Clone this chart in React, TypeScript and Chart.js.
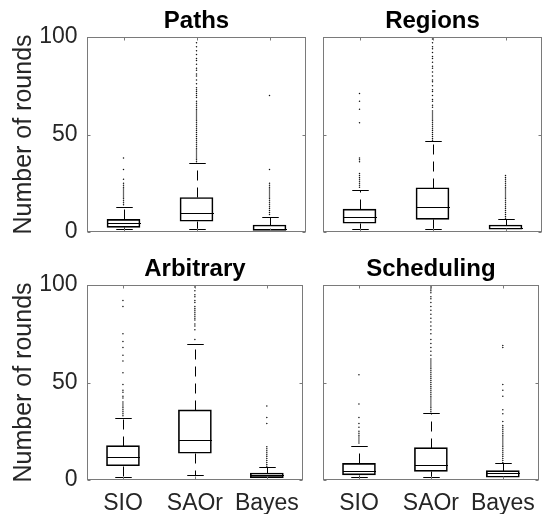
import React, { useEffect, useRef } from 'react';
import { Chart, registerables } from 'chart.js';
Chart.register(...registerables);

const FONT = '"Liberation Sans", Arial, Helvetica, sans-serif';

const categories = ['SIO', 'SAOr', 'Bayes'];
const yTickValues = [0, 50, 100];

// ---- Paths ----
const pathsLow = [1.5, 1.5, 0.5];
const pathsQ1 = [2.4, 5.5, 0.8];
const pathsMedian = [4.5, 9.6, 1.5];
const pathsQ3 = [6.5, 17.7, 3.6];
const pathsHigh = [12.6, 35.6, 7.6];
const pathsOutSIO = [14, 15, 16, 17, 18, 19, 20, 21, 22, 23, 24, 25, 27, 32, 38];
const pathsOutSAOr = [36, 37, 38, 39, 40, 41, 42, 43, 44, 45, 46, 47, 48, 49, 50, 51, 52, 53, 54, 55, 56, 57, 58, 59, 60, 61, 62, 63, 64, 65, 66, 67, 69, 70, 71, 72, 73, 74, 76, 78, 80, 81, 83, 84, 86, 88, 89, 91, 93, 95, 97, 100];
const pathsOutBayes = [9, 10, 11, 12, 13, 14, 15, 16, 17, 18, 19, 20, 21, 22, 23, 24, 25, 32, 70];

// ---- Regions ----
const regionsLow = [1.5, 1.5, 0.5];
const regionsQ1 = [4.5, 6.5, 1.4];
const regionsMedian = [7.6, 12.7, 2.2];
const regionsQ3 = [11.7, 22.7, 3.6];
const regionsHigh = [21.5, 46.8, 6.5];
const regionsOutSIO = [23, 24, 25, 26, 27, 28, 29, 30, 36, 37, 38, 56, 63, 67, 71];
const regionsOutSAOr = [47, 48, 49, 50, 51, 52, 53, 54, 55, 56, 57, 58, 59, 60, 61, 62, 64, 65, 67, 68, 70, 72, 73, 75, 77, 78, 80, 82, 84, 85, 87, 89, 90, 92, 94, 95, 97, 99, 100];
const regionsOutBayes = [7, 8, 9, 10, 11, 12, 13, 14, 15, 16, 17, 18, 19, 20, 21, 22, 23, 24, 25, 26, 27, 28, 29];

// ---- Arbitrary ----
const arbitraryLow = [1.4, 2.6, 0.3];
const arbitraryQ1 = [7.3, 13.7, 1.2];
const arbitraryMedian = [11.6, 20.6, 2.4];
const arbitraryQ3 = [17.6, 36.0, 3.6];
const arbitraryHigh = [31.6, 69.6, 6.5];
const arbitraryOutSIO = [33, 34, 35, 36, 37, 38, 39, 40, 42, 43, 45, 46, 49, 55, 61, 64, 68, 71, 75, 89, 92];
const arbitraryOutSAOr = [72, 77, 79, 80, 82, 83, 84, 85, 86, 87, 88, 89, 91, 92, 94, 95, 97, 99];
const arbitraryOutBayes = [7, 8, 9, 10, 11, 12, 13, 14, 15, 16, 17, 29, 32, 38];

// ---- Scheduling ----
const schedulingLow = [1.4, 1.7, 0.7];
const schedulingQ1 = [2.6, 4.4, 1.4];
const schedulingMedian = [4.8, 7.5, 3.4];
const schedulingQ3 = [8.5, 16.6, 4.8];
const schedulingHigh = [17.6, 34.6, 8.7];
const schedulingOutSIO = [19, 20, 21, 22, 23, 24, 25, 27, 29, 32, 39, 54];
const schedulingOutSAOr = [35, 36, 37, 38, 39, 40, 41, 42, 43, 44, 45, 46, 47, 48, 49, 50, 51, 52, 53, 54, 55, 56, 57, 58, 59, 60, 61, 62, 64, 66, 68, 70, 72, 75, 77, 79, 81, 83, 85, 87, 89, 91, 93, 94, 96, 97, 98, 99, 100];
const schedulingOutBayes = [9, 10, 11, 12, 13, 14, 15, 16, 17, 18, 19, 20, 21, 22, 23, 24, 25, 26, 27, 28, 30, 34, 36, 43, 46, 49, 68, 69];

type Panel = {
  title: string;
  row: number;
  col: number;
  low: number[];
  q1: number[];
  median: number[];
  q3: number[];
  high: number[];
  outliers: number[][];
};

const panels: Panel[] = [
  { title: 'Paths', row: 0, col: 0, low: pathsLow, q1: pathsQ1, median: pathsMedian, q3: pathsQ3, high: pathsHigh, outliers: [pathsOutSIO, pathsOutSAOr, pathsOutBayes] },
  { title: 'Regions', row: 0, col: 1, low: regionsLow, q1: regionsQ1, median: regionsMedian, q3: regionsQ3, high: regionsHigh, outliers: [regionsOutSIO, regionsOutSAOr, regionsOutBayes] },
  { title: 'Arbitrary', row: 1, col: 0, low: arbitraryLow, q1: arbitraryQ1, median: arbitraryMedian, q3: arbitraryQ3, high: arbitraryHigh, outliers: [arbitraryOutSIO, arbitraryOutSAOr, arbitraryOutBayes] },
  { title: 'Scheduling', row: 1, col: 1, low: schedulingLow, q1: schedulingQ1, median: schedulingMedian, q3: schedulingQ3, high: schedulingHigh, outliers: [schedulingOutSIO, schedulingOutSAOr, schedulingOutBayes] },
];

const CW = 310;
const CH = 266;

function PanelChart({ panel }: { panel: Panel }) {
  const ref = useRef<HTMLCanvasElement>(null);
  useEffect(() => {
    if (!ref.current) return;
    const showY = panel.col === 0;
    const showX = panel.row === 1;

    const boxPlugin = {
      id: 'boxExtras',
      afterDatasetsDraw(chart: any) {
        const { ctx } = chart;
        const xs = chart.scales.x;
        const ys = chart.scales.y;
        const meta = chart.getDatasetMeta(0);
        const py = (v: number) => Math.round(ys.getPixelForValue(v)) + 0.5;
        ctx.save();
        ctx.strokeStyle = '#000';
        ctx.lineWidth = 1;
        const seg = (x1: number, y1: number, x2: number, y2: number) => {
          ctx.beginPath();
          ctx.moveTo(x1, y1);
          ctx.lineTo(x2, y2);
          ctx.stroke();
        };
        categories.forEach((_, i) => {
          const bar = meta.data[i];
          const half = bar.width / 2;
          const x = Math.round(xs.getPixelForValue(i)) + 0.5;
          const yLo = py(panel.low[i]);
          const yQ1 = py(panel.q1[i]);
          const yMed = py(panel.median[i]);
          const yQ3 = py(panel.q3[i]);
          const yHi = py(panel.high[i]);
          ctx.setLineDash([]);
          seg(x - half, yMed, x + half, yMed);
          ctx.setLineDash([10, 7]);
          seg(x, yQ3, x, yHi);
          seg(x, yQ1, x, yLo);
          ctx.setLineDash([]);
          seg(x - half / 2, yHi, x + half / 2, yHi);
          seg(x - half / 2, yLo, x + half / 2, yLo);
        });
        ctx.restore();
      },
      afterDraw(chart: any) {
        const { ctx, chartArea } = chart;
        const xs = chart.scales.x;
        const ys = chart.scales.y;
        const l = Math.round(chartArea.left) + 0.5;
        const t = Math.round(chartArea.top) + 0.5;
        const r = Math.round(chartArea.right) - 0.5;
        const b = Math.round(chartArea.bottom) - 0.5;
        ctx.save();
        ctx.strokeStyle = '#7a7a7a';
        ctx.lineWidth = 1;
        ctx.strokeRect(l, t, r - l, b - t);
        const tl = 3;
        ctx.beginPath();
        yTickValues.forEach((v) => {
          const y = Math.round(ys.getPixelForValue(v)) + 0.5;
          ctx.moveTo(l, y); ctx.lineTo(l + tl, y);
          ctx.moveTo(r, y); ctx.lineTo(r - tl, y);
        });
        categories.forEach((_, i) => {
          const x = Math.round(xs.getPixelForValue(i)) + 0.5;
          ctx.moveTo(x, b); ctx.lineTo(x, b - tl);
          ctx.moveTo(x, t); ctx.lineTo(x, t + tl);
        });
        ctx.stroke();
        ctx.restore();
      },
    };

    const chart = new Chart(ref.current, {
      type: 'bar',
      data: {
        labels: categories,
        datasets: [
          {
            type: 'bar',
            data: panel.q1.map((q, i) => [q, panel.q3[i]]) as any,
            backgroundColor: 'rgba(0,0,0,0)',
            borderColor: '#000',
            borderWidth: 1,
            borderSkipped: false,
            barThickness: 33,
          } as any,
          {
            type: 'scatter',
            data: panel.outliers.flatMap((arr, i) => arr.map((v) => ({ x: categories[i], y: v }))),
            pointRadius: 0.75,
            pointHoverRadius: 0.75,
            pointBorderWidth: 0,
            pointBackgroundColor: '#111',
            backgroundColor: '#111',
            borderColor: '#111',
            showLine: false,
          } as any,
        ],
      },
      options: {
        responsive: false,
        maintainAspectRatio: false,
        animation: false,
        events: [],
        layout: { padding: { left: 0, right: 4, top: 0, bottom: 0 } },
        plugins: {
          legend: { display: false },
          tooltip: { enabled: false },
          title: {
            display: true,
            text: panel.title,
            fullSize: false,
            color: '#000',
            font: { family: FONT, size: 24, weight: 'bold', lineHeight: 1.2 },
            padding: { top: 7, bottom: 1.2 },
          },
        },
        scales: {
          x: {
            type: 'category',
            offset: true,
            grid: { display: false, drawTicks: false },
            border: { display: false },
            ticks: {
              display: showX,
              color: '#262626',
              font: { family: FONT, size: 23 },
              padding: 10,
              maxRotation: 0,
              autoSkip: false,
            },
            afterFit: (s: any) => { s.height = 34; },
          },
          y: {
            type: 'linear',
            min: 0,
            max: 100,
            grid: { display: false, drawTicks: false },
            border: { display: false },
            ticks: {
              display: showY,
              stepSize: 50,
              color: '#262626',
              font: { family: FONT, size: 23 },
              padding: 9.5,
            },
            title: {
              display: showY,
              text: 'Number of rounds',
              color: '#262626',
              font: { family: FONT, size: 25 },
              padding: { top: 9, bottom: 0 },
            },
            afterFit: (s: any) => { s.width = 87; },
          },
        },
      } as any,
      plugins: [boxPlugin],
    });
    return () => chart.destroy();
  }, [panel]);

  return (
    <canvas
      ref={ref}
      width={CW}
      height={CH}
      style={{ position: 'absolute', left: panel.col * 236, top: panel.row * 248, width: CW, height: CH, display: 'block' }}
    />
  );
}

export default function App() {
  return (
    <div style={{ position: 'fixed', left: 0, top: 0, width: 546, height: 514, background: '#fff', overflow: 'hidden' }}>
      {panels.map((p) => (
        <PanelChart key={p.title} panel={p} />
      ))}
    </div>
  );
}
